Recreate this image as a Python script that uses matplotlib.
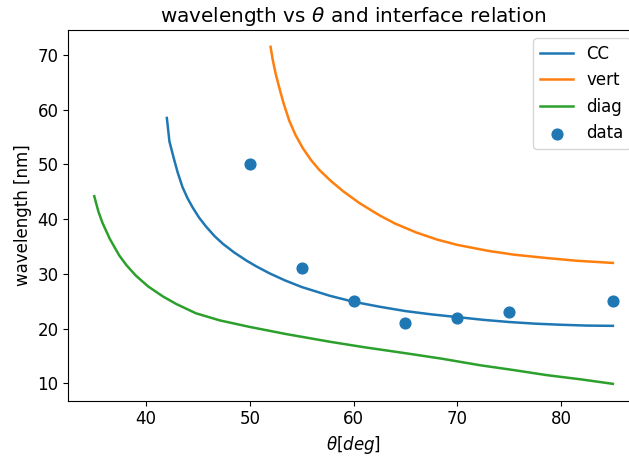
import matplotlib.pyplot as plt

# angle / wavelength readings for each interface relation
theta_cc = [42.0, 42.25, 42.7, 43.05, 43.5, 44.0, 44.5, 45.1, 45.8, 46.6, 47.4, 48.5,
            49.7, 50.6, 51.9, 53.4, 55.0, 57.7, 60.0, 62.5, 65.0, 67.5, 70.0, 72.5,
            75.0, 77.5, 80.0, 82.5, 85.0]
wl_cc = [58.5, 54.2, 50.9, 48.5, 45.9, 43.8, 42.1, 40.3, 38.6, 36.9, 35.5, 33.9,
         32.4, 31.4, 30.1, 28.8, 27.6, 26.0, 24.9, 24.0, 23.2, 22.6, 22.1, 21.6,
         21.2, 20.9, 20.7, 20.55, 20.5]

theta_vert = [52.0, 52.2, 52.5, 52.9, 53.25, 53.8, 54.4, 55.1, 55.9, 56.7, 57.8, 59.0,
              60.6, 62.5, 64.0, 66.0, 68.0, 70.0, 73.0, 75.5, 78.6, 81.5, 85.0]
wl_vert = [71.5, 69.2, 66.5, 63.6, 61.2, 58.0, 55.4, 53.0, 50.8, 49.0, 47.0, 45.1,
           42.9, 40.7, 39.2, 37.6, 36.3, 35.3, 34.2, 33.5, 32.9, 32.4, 32.0]

theta_diag = [35.0, 35.4, 35.8, 36.5, 37.4, 38.1, 39.0, 40.2, 41.6, 42.9, 44.8, 47.1,
              50.0, 53.5, 57.7, 61.0, 65.0, 68.5, 72.2, 75.5, 78.6, 82.0, 85.0]
wl_diag = [44.2, 41.4, 39.3, 36.4, 33.4, 31.6, 29.7, 27.7, 25.9, 24.5, 22.8, 21.5,
           20.3, 19.0, 17.6, 16.6, 15.5, 14.5, 13.3, 12.4, 11.5, 10.7, 9.9]

# measured points
theta_data = [50, 55, 60, 65, 70, 75, 85]
wl_data = [50, 31, 25, 21, 22, 23, 25]

fig = plt.figure(figsize=(6.29, 4.57), dpi=100)
ax = fig.add_axes([0.1086, 0.1232, 0.907, 0.8112])

ax.plot(theta_cc, wl_cc, linewidth=1.8, label="CC")
ax.plot(theta_vert, wl_vert, linewidth=1.8, label="vert")
ax.plot(theta_diag, wl_diag, linewidth=1.8, label="diag")
ax.scatter(theta_data, wl_data, s=60, label="data")

ax.set_title(r"wavelength vs $\theta$ and interface relation", fontsize=14.4)
ax.set_xlabel(r"$\theta[deg]$", fontsize=12)
ax.set_ylabel("wavelength [nm]", fontsize=12)
ax.tick_params(labelsize=12)
ax.legend(fontsize=12, loc="upper right")

fig.savefig("out.png", dpi=100)
